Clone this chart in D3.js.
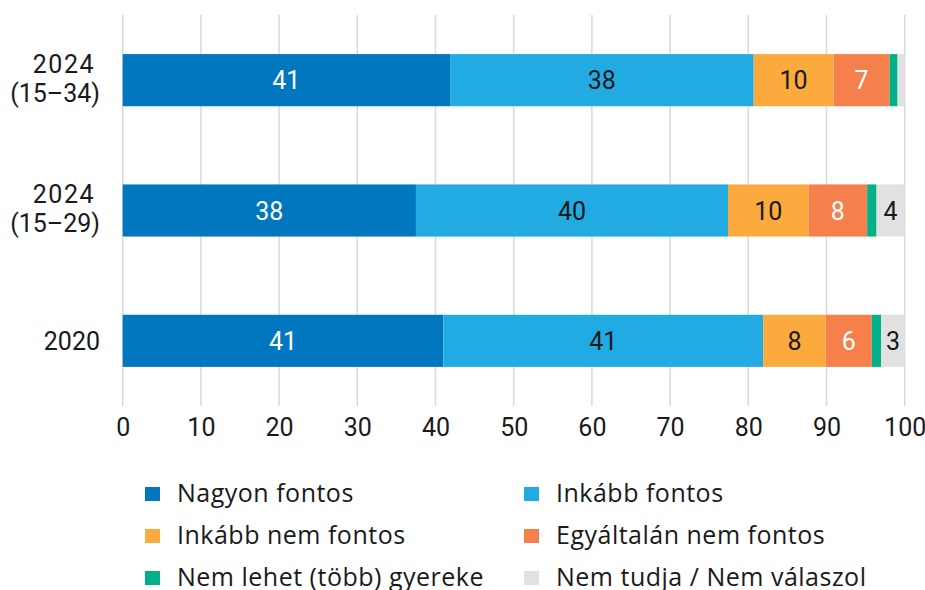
<!DOCTYPE html>
<html>
<head>
<meta charset="utf-8">
<script src="https://cdn.jsdelivr.net/npm/d3@7"></script>
<style>
  body { margin: 0; background: #fff; }
  text { font-family: Roboto, "Noto Sans", sans-serif; fill: #1a1a1a; }
  .legendText { font-family: "Open Sans", Roboto, sans-serif; letter-spacing: 0.5px; }
</style>
</head>
<body>
<div id="main"></div>
<script>
// categories (top to bottom)
const categories = ["2024\n(15–34)", "2024\n(15–29)", "2020"];
const seriesNames = ["Nagyon fontos", "Inkább fontos", "Inkább nem fontos",
  "Egyáltalán nem fontos", "Nem lehet (több) gyereke", "Nem tudja / Nem válaszol"];
// shares per series, one value per category
const nagyon = [41.4, 37.5, 41.0];
const inkabb = [38.4, 39.9, 40.9];
const inkabbNem = [10.1, 10.3, 8.0];
const egyaltalan = [7.1, 7.5, 5.9];
const nemLehet = [1.0, 1.2, 1.2];
const nemTudja = [0.9, 3.6, 3.0];
const xTicks = [0, 10, 20, 30, 40, 50, 60, 70, 80, 90, 100];

const colors = ["#0077be", "#22abe2", "#fbab3d", "#f5804b", "#00b089", "#e1e1e1"];
const labelColors = ["#fff", "#1a1a1a", "#1a1a1a", "#fff", "#1a1a1a", "#1a1a1a"];

function main() {
  const svgWidth = 925, svgHeight = 590;
  const svg = d3.select("#main").append("svg")
    .attr("width", svgWidth).attr("height", svgHeight);

  const series = [nagyon, inkabb, inkabbNem, egyaltalan, nemLehet, nemTudja];
  const rows = categories.map((c, i) => {
    const row = { cat: c };
    const total = d3.sum(series, s => s[i]);
    seriesNames.forEach((n, j) => row[n] = series[j][i] / total * 100);
    return row;
  });
  const stacked = d3.stack().keys(seriesNames)(rows);

  const x = d3.scaleLinear().domain([0, 100]).range([122.7, 904.7]);
  const y = d3.scaleBand().domain(categories).range([15, 406])
    .paddingInner(0.6).paddingOuter(0.3);

  // grid
  svg.append("g").selectAll("line").data(xTicks).enter().append("line")
    .attr("x1", d => x(d)).attr("x2", d => x(d))
    .attr("y1", 15).attr("y2", 406)
    .attr("stroke", "#d9d9d9").attr("stroke-width", 1.5);

  // bars
  const groups = svg.append("g").selectAll("g").data(stacked).enter().append("g")
    .attr("fill", (d, i) => colors[i]);
  groups.selectAll("rect").data(d => d).enter().append("rect")
    .attr("x", d => x(d[0]))
    .attr("y", d => y(d.data.cat))
    .attr("width", d => x(d[1]) - x(d[0]))
    .attr("height", y.bandwidth());

  // value labels
  groups.each(function (s, i) {
    d3.select(this).selectAll("text").data(s.filter(d => d[1] - d[0] >= 2.5)).enter()
      .append("text")
      .attr("x", d => (x(d[0]) + x(d[1])) / 2)
      .attr("y", d => y(d.data.cat) + y.bandwidth() / 2)
      .attr("dy", "0.36em")
      .attr("text-anchor", "middle")
      .style("font-size", "25px")
      .style("fill", labelColors[i])
      .text(d => Math.round(series[i][categories.indexOf(d.data.cat)]));
  });

  // x axis
  const xAxis = d3.axisBottom(x).tickValues(xTicks).tickSize(0).tickPadding(12);
  const gx = svg.append("g").attr("transform", "translate(0,406)").call(xAxis);
  gx.select(".domain").remove();
  gx.selectAll("text").style("font-size", "25px").attr("fill", "#1a1a1a");

  // category labels
  categories.forEach(c => {
    const lines = c.split("\n");
    const cy = y(c) + y.bandwidth() / 2;
    const t = svg.append("text").attr("text-anchor", "end").style("font-size", "25px");
    lines.forEach((l, k) => {
      t.append("tspan")
        .attr("x", k == 0 && lines.length > 1 ? 95 : 100)
        .attr("y", cy + 9 + (k - (lines.length - 1) / 2) * 29 - (lines.length > 1 ? 2 : 0))
        .style("letter-spacing", k == 0 && lines.length > 1 ? "1.5px" : null)
        .text(l);
    });
  });

  // legend
  const legend = svg.append("g");
  seriesNames.forEach((n, i) => {
    const lx = i % 2 == 0 ? 145 : 524;
    const ly = 493 + Math.floor(i / 2) * 42;
    legend.append("rect").attr("x", lx).attr("y", ly - 6).attr("width", 15).attr("height", 14)
      .attr("fill", colors[i]);
    legend.append("text").attr("class", "legendText")
      .attr("x", lx + 32).attr("y", ly).attr("dy", "0.36em")
      .style("font-size", "25px").text(n);
  });
}
main();
</script>
</body>
</html>
